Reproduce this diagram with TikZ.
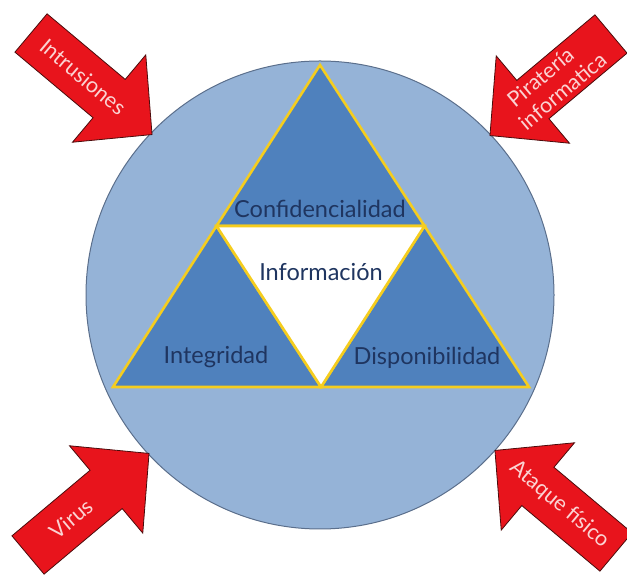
\documentclass[tikz,border=0pt]{standalone}
\usepackage{fontspec}
\setmainfont{Lato}
\definecolor{ringfill}{HTML}{95B3D7}
\definecolor{ringedge}{HTML}{5B6F8C}
\definecolor{pillarfill}{HTML}{4F81BD}
\definecolor{goldline}{HTML}{F5CD1E}
\definecolor{navytext}{HTML}{1F3560}
\definecolor{threatred}{HTML}{E8141C}
\definecolor{threatedge}{HTML}{4A0C0C}
\definecolor{threattext}{HTML}{FBD3D3}

\tikzset{
  ring/.style={fill=ringfill, draw=ringedge, line width=1pt},
  pillar/.style={fill=pillarfill, draw=goldline, line width=2.6pt, line join=miter},
  core/.style={fill=white, draw=goldline, line width=2.6pt, line join=miter},
  pillarlabel/.style={text=navytext, font=\fontsize{23.5}{26}\selectfont, inner sep=0pt},
  threat/.style={fill=threatred, draw=threatedge, line width=0.8pt, line join=miter},
  threatlabel/.style={text=threattext, font=\fontsize{21.5}{25}\selectfont, align=left, inner sep=0pt},
}

% block arrow: #1 node name, #2 tail centre, #3 direction, #4 text angle,
% #5 text offset along the axis, #6 label
\newcommand\threatarrow[6]{%
  \begin{scope}[shift={#2}, rotate=#3]
    \draw[threat] (0,25) -- (102,25) -- (102,57) -- (158,0)
      -- (102,-57) -- (102,-25) -- (0,-25) -- cycle;
    \node[threatlabel, rotate=#4] (#1) at (#5,0) {#6};
  \end{scope}}

\begin{document}
\begin{tikzpicture}[x=1pt, y=1pt]
  \useasboundingbox (0,0) rectangle (627,578);

  % outer ring
  \node[ring, circle, minimum size=468pt, inner sep=0pt] (ring) at (320,283) {};

  % triangle corners and edge midpoints
  \coordinate (top) at (320,513);
  \coordinate (bl)  at (113,191);
  \coordinate (br)  at (529,191);
  \coordinate (ml)  at (216.5,352);
  \coordinate (mr)  at (424.5,352);
  \coordinate (mb)  at (321,191);

  \draw[pillar] (top) -- (mr) -- (ml) -- cycle;
  \draw[pillar] (ml) -- (mb) -- (bl) -- cycle;
  \draw[pillar] (mr) -- (br) -- (mb) -- cycle;
  \draw[core]   (ml) -- (mr) -- (mb) -- cycle;

  \node[pillarlabel] (conf) at (320,369) {Confidencialidad};
  \node[pillarlabel] (info) at (321,306) {Información};
  \node[pillarlabel] (inte) at (216,221) {Integridad};
  \node[pillarlabel] (disp) at (427,220) {Disponibilidad};

  % threats pointing at the ring
  \threatarrow{intr}{(31,545)}{-40}{-40}{68}{Intrusiones}
  \threatarrow{pira}{(611,544)}{220}{40}{74}{\hspace*{6pt}Piratería\\informatica}
  \threatarrow{viru}{(28,23)}{40}{40}{56}{Virus}
  \threatarrow{ataq}{(616,26)}{140}{-40}{74}{Ataque físico}
\end{tikzpicture}
\end{document}
